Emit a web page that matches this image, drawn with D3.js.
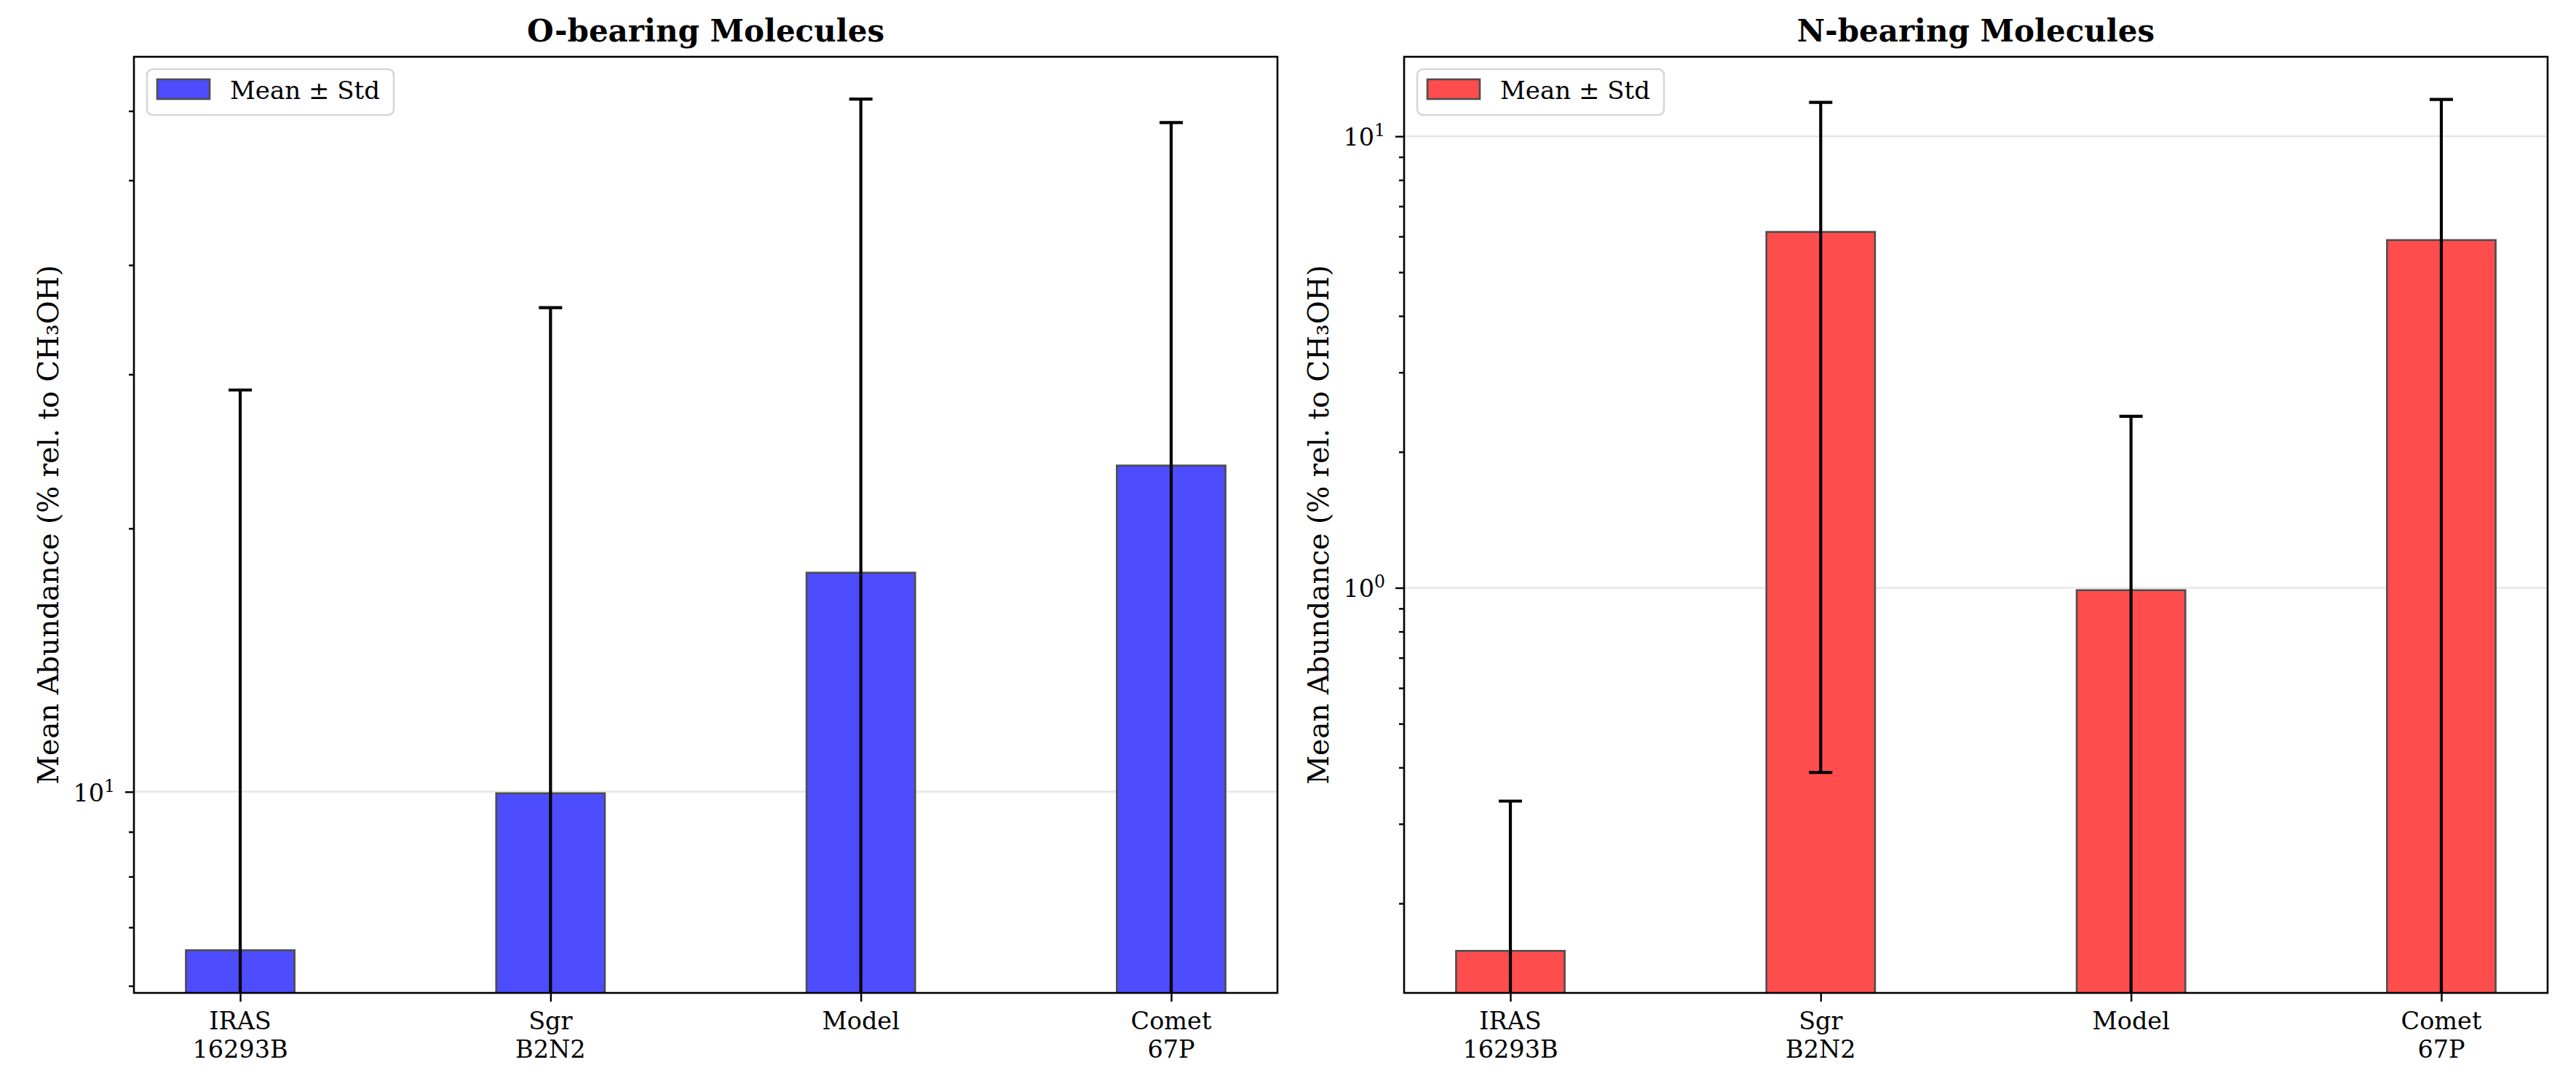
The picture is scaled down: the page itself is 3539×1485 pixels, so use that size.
<!DOCTYPE html>
<html>
<head>
<meta charset="utf-8">
<script src="https://cdn.jsdelivr.net/npm/d3@7"></script>
<style>
  body { margin: 0; background: #fff; }
  svg { display: block; font-family: "DejaVu Serif", serif; }
</style>
</head>
<body>
<script>
// sources on the x axis
const categories = ["IRAS\n16293B", "Sgr\nB2N2", "Model", "Comet\n67P"];

// O-bearing molecules, mean and std (% rel. to CH3OH)
const oMean = [6.59, 9.96, 17.8, 23.6];
const oStd = [22.2, 25.8, 44.1, 34.6];

// N-bearing molecules
const nMean = [0.157, 6.14, 0.988, 5.89];
const nStd = [0.18, 5.75, 1.41, 6.18];

const width = 3539, height = 1485;
const plotTop = 78, plotBottom = 1364;
const plotW = 1571;
const barWidth = 0.35;

const svg = d3.select("body").append("svg")
  .attr("width", width)
  .attr("height", height);

svg.append("rect").attr("width", width).attr("height", height).attr("fill", "#fff");

function drawPanel({ left, title, means, stds, fill, yDomain, id }) {
  const g = svg.append("g");
  const x = d3.scaleLinear()
    .domain([-0.5 * barWidth - 0.1675, categories.length - 1 + 0.5 * barWidth + 0.1675])
    .range([left, left + plotW]);
  const y = d3.scaleLog().domain(yDomain).range([plotBottom, plotTop]);

  g.append("clipPath").attr("id", id)
    .append("rect")
    .attr("x", left).attr("y", plotTop)
    .attr("width", plotW).attr("height", plotBottom - plotTop);

  // major / minor tick values on the log axis
  const lo = Math.floor(Math.log10(yDomain[0])), hi = Math.ceil(Math.log10(yDomain[1]));
  const majors = [], minors = [];
  for (let k = lo; k <= hi; k++) {
    const p = Math.pow(10, k);
    if (p >= yDomain[0] && p <= yDomain[1]) majors.push(p);
    for (let m = 2; m <= 9; m++) {
      const v = m * p;
      if (v >= yDomain[0] && v <= yDomain[1]) minors.push(v);
    }
  }

  // grid
  g.append("g").selectAll("line")
    .data(majors).join("line")
    .attr("x1", left).attr("x2", left + plotW)
    .attr("y1", d => y(d)).attr("y2", d => y(d))
    .attr("stroke", "#e3e3e3").attr("stroke-width", 2.2);

  const plot = g.append("g").attr("clip-path", `url(#${id})`);

  // bars
  plot.selectAll("rect.bar")
    .data(means).join("rect")
    .attr("class", "bar")
    .attr("x", (d, i) => x(i - barWidth / 2))
    .attr("width", x(barWidth) - x(0))
    .attr("y", d => y(d))
    .attr("height", d => plotBottom + 10 - y(d))
    .attr("fill", fill)
    .attr("stroke", "#4d4d4d")
    .attr("stroke-width", 2.6);

  // error bars
  const capHalf = 16;
  const eb = plot.append("g").attr("stroke", "#000").attr("stroke-width", 4.2);
  means.forEach((m, i) => {
    const cx = x(i);
    const hiV = m + stds[i];
    const loV = m - stds[i];
    const yLo = loV > 0 ? y(loV) : plotBottom + 20;
    eb.append("line")
      .attr("x1", cx).attr("x2", cx)
      .attr("y1", y(hiV)).attr("y2", yLo);
    eb.append("line")
      .attr("x1", cx - capHalf).attr("x2", cx + capHalf)
      .attr("y1", y(hiV)).attr("y2", y(hiV));
    if (loV > 0) {
      eb.append("line")
        .attr("x1", cx - capHalf).attr("x2", cx + capHalf)
        .attr("y1", y(loV)).attr("y2", y(loV));
    }
  });

  // y axis ticks
  const yMajor = g.append("g")
    .attr("transform", `translate(${left},0)`)
    .call(d3.axisLeft(y).tickValues(majors).tickSize(12).tickFormat(""));
  const yMinor = g.append("g")
    .attr("transform", `translate(${left},0)`)
    .call(d3.axisLeft(y).tickValues(minors).tickSize(7).tickFormat(""));
  [yMajor, yMinor].forEach(a => {
    a.select(".domain").remove();
    a.selectAll("line").attr("stroke", "#000").attr("stroke-width", 2.4);
  });

  // y tick labels as 10^k
  majors.forEach(v => {
    const t = g.append("text")
      .attr("x", left - 26)
      .attr("y", y(v) + 13)
      .attr("text-anchor", "end")
      .attr("font-size", 33.5);
    t.append("tspan").text("10");
    t.append("tspan")
      .attr("font-size", 23.5)
      .attr("dy", -13)
      .text(Math.round(Math.log10(v)));
  });

  // x axis ticks + labels
  const xAxis = g.append("g")
    .attr("transform", `translate(0,${plotBottom})`)
    .call(d3.axisBottom(x).tickValues(d3.range(categories.length)).tickSize(12).tickFormat(""));
  xAxis.select(".domain").remove();
  xAxis.selectAll("line").attr("stroke", "#000").attr("stroke-width", 2.4);

  categories.forEach((c, i) => {
    const t = g.append("text")
      .attr("x", x(i))
      .attr("y", 1414)
      .attr("text-anchor", "middle")
      .attr("font-size", 33.5);
    c.split("\n").forEach((line, j) => {
      t.append("tspan").attr("x", x(i)).attr("dy", j === 0 ? 0 : 39).text(line);
    });
  });

  // frame
  g.append("rect")
    .attr("x", left).attr("y", plotTop)
    .attr("width", plotW).attr("height", plotBottom - plotTop)
    .attr("fill", "none")
    .attr("stroke", "#000")
    .attr("stroke-width", 2.6);

  // title
  g.append("text")
    .attr("x", left + plotW / 2)
    .attr("y", 57)
    .attr("text-anchor", "middle")
    .attr("font-size", 42)
    .attr("font-weight", "bold")
    .text(title);

  // y label
  g.append("text")
    .attr("transform", `translate(${left - 104},${(plotTop + plotBottom) / 2}) rotate(-90)`)
    .attr("text-anchor", "middle")
    .attr("font-size", 39)
    .text("Mean Abundance (% rel. to CH₃OH)");

  // legend
  const lg = g.append("g").attr("transform", `translate(${left + 18},95)`);
  lg.append("rect")
    .attr("width", 339).attr("height", 63).attr("rx", 8)
    .attr("fill", "#fff")
    .attr("stroke", "#d6d6d6").attr("stroke-width", 2.6);
  lg.append("rect")
    .attr("x", 14).attr("y", 14).attr("width", 72).attr("height", 27)
    .attr("fill", fill)
    .attr("stroke", "#4d4d4d").attr("stroke-width", 2.6);
  lg.append("text")
    .attr("x", 114).attr("y", 41)
    .attr("font-size", 34)
    .text("Mean ± Std");
}

drawPanel({ left: 184, title: "O-bearing Molecules", means: oMean, stds: oStd,
  fill: "#4d4dff", yDomain: [5.89, 69.2], id: "clipO" });
drawPanel({ left: 1929, title: "N-bearing Molecules", means: nMean, stds: nStd,
  fill: "#ff4d4d", yDomain: [0.1267, 15.0], id: "clipN" });
</script>
</body>
</html>
